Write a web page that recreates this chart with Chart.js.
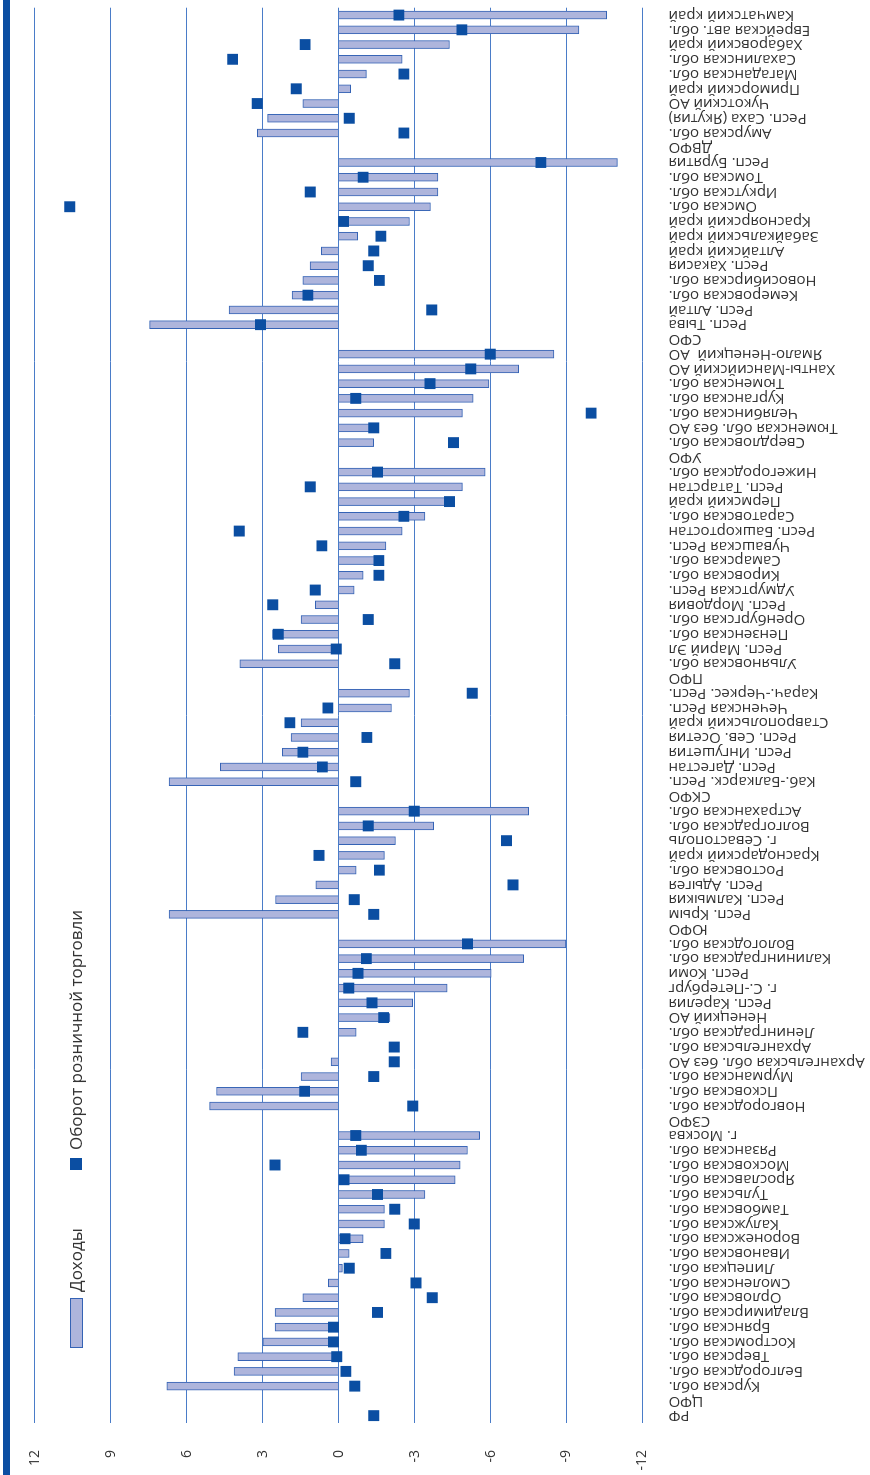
<!DOCTYPE html>
<html><head><meta charset="utf-8">
<script src="https://cdn.jsdelivr.net/npm/chart.js@4/dist/chart.umd.min.js"></script>
<style>
html,body{margin:0;padding:0;background:#fff;overflow:hidden;width:870px;height:1475px;}
#wrap{position:absolute;left:0;top:0;width:1475px;height:870px;transform-origin:0 0;transform:translateY(1475px) rotate(-90deg);}
canvas{display:block;}
</style></head><body>
<div id="wrap"><canvas id="c" width="1475" height="870"></canvas></div>
<script>
const categories = [
 'РФ','ЦФО','Курская обл.','Белгородская обл.','Тверская обл.','Костромская обл.','Брянская обл.','Владимирская обл.','Орловская обл.','Смоленская обл.','Липецкая обл.','Ивановская обл.','Воронежская обл.','Калужская обл.','Тамбовская обл.','Тульская обл.','Ярославская обл.','Московская обл.','Рязанская обл.','г. Москва',
 'СЗФО','Новгородская обл.','Псковская обл.','Мурманская обл.','Архангельская обл. без АО','Архангельская обл.','Ленинградская обл.','Ненецкий АО','Респ. Карелия','г. С.-Петербург','Респ. Коми','Калининградская обл.','Вологодская обл.',
 'ЮФО','Респ. Крым','Респ. Калмыкия','Респ. Адыгея','Ростовская обл.','Краснодарский край','г. Севастополь','Волгоградская обл.','Астраханская обл.',
 'СКФО','Каб.-Балкарск. Респ.','Респ. Дагестан','Респ. Ингушетия','Респ. Сев. Осетия','Ставропольский край','Чеченская Респ.','Карач.-Черкес. Респ.',
 'ПФО','Ульяновская обл.','Респ. Марий Эл','Пензенская обл.','Оренбургская обл.','Респ. Мордовия','Удмуртская Респ.','Кировская обл.','Самарская обл.','Чувашская Респ.','Респ. Башкортостан','Саратовская обл.','Пермский край','Респ. Татарстан','Нижегородская обл.',
 'УФО','Свердловская обл.','Тюменская обл. без АО','Челябинская обл.','Курганская обл.','Тюменская обл.','Ханты-Мансийский АО','Ямало-Ненецкий  АО',
 'СФО','Респ. Тыва','Респ. Алтай','Кемеровская обл.','Новосибирская обл.','Респ. Хакасия','Алтайский край','Забайкальский край','Красноярский край','Омская обл.','Иркутская обл.','Томская обл.','Респ. Бурятия',
 'ДВФО','Амурская обл.','Респ. Саха (Якутия)','Чукотский АО','Приморский край','Магаданская обл.','Сахалинская обл.','Хабаровский край','Еврейская авт. обл.','Камчатский край'
];
const incomeValues = [
 null,null,6.78,4.12,3.98,2.99,2.51,2.51,1.41,0.40,-0.15,-0.42,-0.97,-1.81,-1.81,-3.41,-4.60,-4.80,-5.09,-5.57,
 null,5.09,4.82,1.48,0.29,null,-0.70,-2.03,-2.93,-4.29,-6.03,-7.31,-8.98,
 null,6.69,2.49,0.90,-0.70,-1.81,-2.25,-3.76,-7.51,
 null,6.69,4.67,2.22,1.87,1.48,-2.09,-2.80,
 null,3.90,2.38,2.60,1.48,0.92,-0.62,-0.97,-1.61,-1.87,-2.51,-3.41,-4.43,-4.89,-5.79,
 null,-1.39,-1.39,-4.89,-5.31,-5.94,-7.11,-8.50,
 null,7.46,4.32,1.83,1.41,1.12,0.68,-0.75,-2.80,-3.63,-3.92,-3.92,-11.01,
 null,3.21,2.80,1.41,-0.48,-1.10,-2.51,-4.38,-9.49,-10.59
];
const retailValues = [
 -1.39,null,-0.64,-0.29,0.07,0.20,0.20,-1.54,-3.70,-3.06,-0.42,-1.87,-0.26,-2.99,-2.22,-1.54,-0.22,2.51,-0.90,-0.68,
 null,-2.93,1.34,-1.39,-2.20,-2.20,1.41,-1.78,-1.32,-0.40,-0.77,-1.10,-5.09,
 null,-1.39,-0.62,-6.89,-1.61,0.77,-6.63,-1.17,-2.99,
 null,-0.68,0.64,1.41,-1.12,1.92,0.42,-5.28,
 null,-2.22,0.09,2.38,-1.17,2.60,0.92,-1.59,-1.59,0.66,3.92,-2.58,-4.38,1.12,-1.54,
 null,-4.54,-1.39,-9.97,-0.68,-3.61,-5.22,-5.99,
 null,3.08,-3.68,1.21,-1.61,-1.17,-1.39,-1.67,-0.20,10.61,1.12,-0.97,-7.99,
 null,-2.58,-0.42,3.21,1.67,-2.58,4.18,1.32,-4.87,-2.38
];
const legendLabels = ['Доходы','Оборот розничной торговли'];
const valueMin = -12, valueMax = 12, valueStep = 3;

const barFill = '#aeb5dc', barBorder = '#3563b5', markerColor = '#0b4ea2', gridColor = '#4a7cc8', textColor = '#333333';

const decor = {
  id: 'decor',
  afterDraw(chart) {
    const ctx = chart.ctx;
    ctx.save();
    ctx.fillStyle = markerColor;
    ctx.fillRect(0, 3, chart.width, 7);
    ctx.fillStyle = barFill; ctx.strokeStyle = barBorder; ctx.lineWidth = 1;
    ctx.fillRect(127.5, 70.5, 49, 12); ctx.strokeRect(127.5, 70.5, 49, 12);
    ctx.fillStyle = textColor; ctx.font = '17px "Open Sans"'; ctx.textBaseline = 'middle'; ctx.textAlign = 'left';
    ctx.fillText(legendLabels[0], 183, 77);
    ctx.fillStyle = markerColor; ctx.fillRect(305, 70, 12, 12);
    ctx.fillStyle = textColor;
    ctx.fillText(legendLabels[1], 325, 77);
    ctx.restore();
  }
};

new Chart(document.getElementById('c'), {
  data: {
    labels: categories,
    datasets: [
      { type: 'line', label: legendLabels[1], data: retailValues, showLine: false, order: 0,
        pointStyle: 'rect', pointRadius: 7.7, pointHoverRadius: 7.7, pointBackgroundColor: markerColor, pointBorderWidth: 0, borderColor: markerColor, backgroundColor: markerColor },
      { type: 'bar', label: legendLabels[0], data: incomeValues, order: 1,
        backgroundColor: barFill, borderColor: barBorder, borderWidth: 1, barThickness: 8 }
    ]
  },
  options: {
    responsive: false, animation: false, devicePixelRatio: 1,
    layout: { padding: { top: 34.6, right: 5, left: 0, bottom: 0 } },
    plugins: { legend: { display: false }, tooltip: { enabled: false } },
    scales: {
      x: {
        type: 'category', offset: true,
        grid: { display: false, drawTicks: false }, border: { display: false },
        ticks: { autoSkip: false, minRotation: 90, maxRotation: 90, padding: 26, color: textColor, font: { family: 'Open Sans', size: 15 } },
        afterFit(scale) { scale.height = 227.5; scale.paddingRight = 0; scale.paddingLeft = 0; }
      },
      y: {
        min: valueMin, max: valueMax,
        grid: { color: gridColor, lineWidth: 1, drawTicks: false }, border: { display: false },
        ticks: { stepSize: valueStep, padding: 27, color: textColor, font: { family: 'Open Sans', size: 14 } },
        afterFit(scale) { scale.width = 52; scale.paddingTop = 0; scale.paddingBottom = 0; }
      }
    }
  },
  plugins: [decor]
});
</script>
</body></html>
